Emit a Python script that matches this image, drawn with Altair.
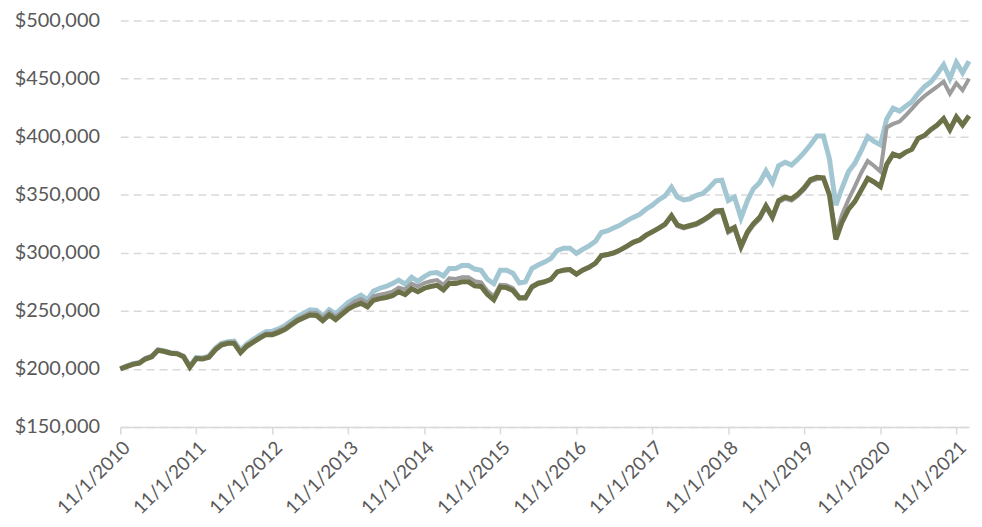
import altair as alt
import pandas as pd

# Monthly portfolio values, in thousands of dollars (11/1/2010 .. 1/1/2022)
start_date = "2010-11-01"
n_months = 135

blue_k = [
    200, 202.5, 204.5, 205.5, 209, 211, 216.5, 215.5, 214, 213.5, 211, 202.5,
    210, 209.5, 211, 218, 222, 223.5, 224, 216, 221.5, 225.5, 229, 232,
    232.5, 234.5, 237.5, 241.5, 245, 248, 251, 250.5, 245.5, 251, 247.5, 252.5,
    257.5, 260.5, 263.5, 259.5, 267, 269.5, 271, 273.5, 276.5, 273, 279, 275.5,
    279.5, 282.5, 283, 280, 286.5, 286.5, 289, 289, 286, 285, 277, 273.5,
    285, 285, 282.5, 274, 275, 286.5, 289.5, 292, 295, 302, 304, 304,
    299.5, 303, 306, 310, 317.5, 319, 321.5, 324, 327.5, 330.5, 333, 337.5,
    341, 345.5, 349, 356.5, 348, 345.5, 346.5, 349.5, 351, 356, 362, 362.5,
    345, 348, 330, 345, 355, 360.5, 370.5, 360.5, 375, 378, 375.5, 380.5,
    386.5, 393, 400.5, 400.5, 381, 341, 356, 370, 377, 388, 400, 396,
    393, 415, 424.5, 422, 426, 430, 437, 443, 447, 454, 462, 450,
    464, 455, 465,
]

gray_k = [
    200, 202.5, 204.5, 205.5, 209, 211, 216.5, 215.5, 214, 213.5, 211, 202,
    209.5, 209.5, 211, 217.5, 221.5, 223, 223, 215, 220.5, 224, 227.5, 230.5,
    230.5, 233, 235.5, 239.5, 243, 245.5, 248.5, 248.5, 244, 249, 245, 249.5,
    254, 258, 260, 257, 262.5, 264, 265, 266.5, 270, 268.5, 273.5, 271,
    274, 275.5, 276.5, 272.5, 278, 277.5, 279, 279, 275.5, 274.5, 267, 262.5,
    272.5, 272, 269.5, 262, 262, 271.5, 274.5, 275.5, 277.5, 284, 285.5, 286,
    282, 285.5, 288, 291.5, 298, 299, 300.5, 303, 306, 309.5, 311.5, 315.5,
    318.5, 321.5, 325, 331, 323, 321, 322.5, 324, 327, 330.5, 334.5, 335,
    317.5, 320.5, 304, 316.5, 323.5, 329, 339, 329.5, 343.5, 346.5, 345, 349,
    354.5, 361.5, 363.5, 364, 349.5, 315, 333, 346, 357, 369, 379, 375,
    370, 408, 411, 413, 418, 424, 430, 435, 439, 443, 447.5, 437,
    446, 440, 450,
]

olive_k = [
    200, 202, 204, 205, 208.5, 210.5, 216, 215, 213.5, 213, 210.5, 201.5,
    209, 208.5, 210, 216.5, 220.5, 222, 222, 214, 219.5, 223, 226.5, 229.5,
    229.5, 231.5, 234, 238, 241.5, 244, 246.5, 246, 241.5, 246.5, 242.5, 247,
    251.5, 254.5, 256.5, 253.5, 259, 260.5, 261.5, 263, 266.5, 264, 269, 266.5,
    269.5, 271, 272, 268, 273.5, 273.5, 275, 275, 271.5, 271, 264, 259.5,
    270.5, 270, 267.5, 261, 261, 270.5, 273.5, 275, 277, 283.5, 285, 285.5,
    281.5, 285, 287.5, 291, 297.5, 298.5, 300, 302.5, 305.5, 309, 311, 315,
    318, 321, 324.5, 332, 324, 322, 323.5, 325, 328, 331.5, 336, 336.5,
    319, 322, 305.5, 318, 325, 330.5, 340.5, 331, 345, 348, 346.5, 350.5,
    356, 363, 365, 364.5, 350, 311.5, 326.5, 337.5, 344, 354, 364, 361,
    357, 376, 385, 383, 386.5, 389, 398.5, 401, 406, 410, 415.5, 406,
    417, 410, 418,
]

tick_years = list(range(2010, 2022))
y_ticks = [150000, 200000, 250000, 300000, 350000, 400000, 450000, 500000]

dates = pd.date_range(start=start_date, periods=n_months, freq="MS").strftime("%Y-%m-%dT00:00:00")
df = pd.DataFrame({
    "date": dates,
    "blue": [v * 1000 for v in blue_k],
    "gray": [v * 1000 for v in gray_k],
    "olive": [v * 1000 for v in olive_k],
})

FONT = "Lato"
LABEL_COLOR = "#595959"

x_enc = alt.X(
    "date:T",
    scale=alt.Scale(domain=[alt.DateTime(year=2010, month=11, date=1),
                            alt.DateTime(year=2022, month=1, date=1)]),
    axis=alt.Axis(
        values=[alt.DateTime(year=y, month=11, date=1) for y in tick_years],
        format="%-m/%-d/%Y", labelAngle=-45, labelFont=FONT, labelFontSize=19,
        labelColor=LABEL_COLOR, tickColor="#D9D9D9", tickSize=7, tickWidth=1.5,
        domainColor="#D9D9D9", domainWidth=1.5, grid=False, title=None,
        labelPadding=4, labelOverlap=False, labelBound=False, labelFlush=False,
    ),
)

y_axis = alt.Axis(
    values=y_ticks, format="$,.0f", grid=True, gridDash=[8, 5],
    gridColor="#D9D9D9", gridWidth=1.5, domain=False, ticks=False,
    labelPadding=21, labelFont=FONT, labelFontSize=20, labelColor=LABEL_COLOR,
    title=None,
)
y_scale = alt.Scale(domain=[150000, 500000], nice=False, zero=False)

base = alt.Chart(df)
line_blue = base.mark_line(color="#A2C7D3", strokeWidth=5).encode(
    x=x_enc, y=alt.Y("blue:Q", scale=y_scale, axis=y_axis))
line_gray = base.mark_line(color="#9C9C9C", strokeWidth=4).encode(
    x=x_enc, y=alt.Y("gray:Q", scale=y_scale, axis=y_axis))
line_olive = base.mark_line(color="#6D7148", strokeWidth=5).encode(
    x=x_enc, y=alt.Y("olive:Q", scale=y_scale, axis=y_axis))

chart = alt.layer(line_blue, line_gray, line_olive).properties(
    width=854, height=409,
    padding={"left": 113, "top": 11, "right": 5, "bottom": 98},
    autosize=alt.AutoSizeParams(type="none"),
    background="white",
).configure_view(stroke=None)

chart.save("out.html", embed_options={"renderer": "svg", "actions": False})
